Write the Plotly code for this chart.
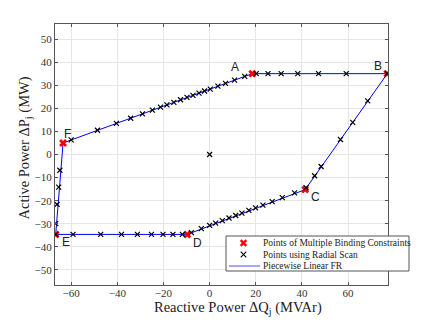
import plotly.graph_objects as go

# corner points of the feasible region (multiple binding constraints)
vert_names = ["A", "B", "C", "D", "E", "F"]
vert_q = [18.5, 77.0, 41.4, -9.7, -66.7, -63.5]
vert_p = [35.0, 35.0, -15.2, -34.6, -34.6, 5.0]

# points found with the radial scan
scan_q = [-60.0, -48.6, -40.4, -34.2, -29.1, -24.8, -21.3, -18.5, -15.5, -12.6,
          -9.8, -7.2, -4.6, -2.2, 0.3, 3.6, 6.9, 10.8, 15.2, 20.2,
          25.3, 31.0, 38.2, 47.2, 59.2, 77.0,
          68.5, 62.0, 56.7, 48.3, 45.5, 41.8,
          36.8, 31.5, 27.1, 23.1, 19.9, 17.0, 14.0, 11.3, 8.4, 5.5, 2.6, 0.0, -3.6, -7.9,
          -11.8, -15.9, -20.2, -25.2, -31.3, -38.2, -47.2, -59.2, -66.7,
          -66.7, -66.1, -65.4, -64.9,
          0.0]
scan_p = [6.3, 10.5, 13.5, 15.7, 17.6, 19.2, 20.5, 21.5, 22.6, 23.7,
          24.7, 25.6, 26.6, 27.5, 28.3, 29.6, 30.8, 32.2, 33.8, 35.0,
          35.0, 35.0, 35.0, 35.0, 35.0, 35.0,
          23.2, 13.9, 6.5, -5.2, -9.2, -14.4,
          -16.6, -18.7, -20.4, -21.9, -23.1, -24.2, -25.4, -26.4, -27.5, -28.6, -29.7, -30.7, -32.1, -33.8,
          -34.6, -34.6, -34.6, -34.6, -34.6, -34.6, -34.6, -34.6, -34.6,
          -29.9, -21.6, -14.1, -6.8,
          0.0]

# where the letters sit
label_q = [10.8, 72.9, 45.9, -5.1, -62.3, -61.8]
label_p = [37.8, 38.2, -18.5, -38.2, -38.0, 8.8]

legend_names = ["Points of Multiple Binding Constraints",
                "Points using Radial Scan",
                "Piecewise Linear FR"]

serif = "Liberation Serif, Times New Roman, serif"

fig = go.Figure()

fig.add_trace(go.Scatter(
    x=vert_q + vert_q[:1], y=vert_p + vert_p[:1],
    mode="lines", line=dict(color="#0000ff", width=1), showlegend=False,
))
fig.add_trace(go.Scatter(
    x=vert_q, y=vert_p, mode="markers", showlegend=False,
    marker=dict(symbol="x", size=7, color="#ff0000", line=dict(width=0)),
))
fig.add_trace(go.Scatter(
    x=scan_q, y=scan_p, mode="markers", showlegend=False,
    marker=dict(symbol="x-thin", size=5, line=dict(width=1.2, color="#000000")),
))

for name, q, p in zip(vert_names, label_q, label_p):
    fig.add_annotation(x=q, y=p, text=name, showarrow=False,
                       font=dict(family="Liberation Sans, Arial", size=12, color="#222"))

# pixel -> paper helpers (plot area 55..388 x 24..285 on the page)
px = lambda v: (v - 55) / 333
py = lambda v: (285 - v) / 261

# axis titles
fig.add_annotation(xref="paper", yref="paper", x=px(238), y=py(308),
                   text="Reactive Power ΔQ<sub>j</sub> (MVAr)", showarrow=False,
                   xanchor="center", yanchor="middle", borderpad=0,
                   font=dict(family=serif, size=14.5, color="#222"))
fig.add_annotation(xref="paper", yref="paper", x=px(24), y=py(148.5),
                   text="Active Power ΔP<sub>j</sub> (MW)", showarrow=False,
                   textangle=-90, xanchor="center", yanchor="middle", borderpad=0,
                   font=dict(family=serif, size=14.5, color="#222"))

# hand-made legend box (compact, like the original)
fig.add_shape(type="rect", xref="paper", yref="paper",
              x0=px(226), x1=px(409), y0=py(271), y1=py(236),
              fillcolor="white", line=dict(color="#555", width=1), layer="above")
rows = [py(243), py(254.5), py(266)]
mx, dx, dy = px(243.5), 2.8 / 333, 2.8 / 261
for col, w, yy in [("#ff0000", 2.4, rows[0]), ("#000000", 1.1, rows[1])]:
    fig.add_shape(type="line", xref="paper", yref="paper", x0=mx - dx, x1=mx + dx,
                  y0=yy - dy, y1=yy + dy, line=dict(color=col, width=w), layer="above")
    fig.add_shape(type="line", xref="paper", yref="paper", x0=mx - dx, x1=mx + dx,
                  y0=yy + dy, y1=yy - dy, line=dict(color=col, width=w), layer="above")
fig.add_shape(type="line", xref="paper", yref="paper", x0=px(229), x1=px(260),
              y0=rows[2], y1=rows[2], line=dict(color="#4d4dff", width=1), layer="above")
for txt, yy in zip(legend_names, rows):
    fig.add_annotation(xref="paper", yref="paper", x=px(261), y=yy, text=txt,
                       showarrow=False, xanchor="left", yanchor="middle",
                       font=dict(family=serif, size=9.5, color="#222"))

axis_style = dict(
    showgrid=True, gridcolor="#e6e6e6", gridwidth=1, zeroline=False,
    showline=True, linecolor="#555", linewidth=1, mirror="ticks",
    ticks="inside", ticklen=3, tickcolor="#555", automargin=False,
    tickfont=dict(family=serif, size=11, color="#333"),
)

fig.update_xaxes(range=[-67.0, 77.3], tickvals=[-60, -40, -20, 0, 20, 40, 60],
                 ticklabelstandoff=-2, **axis_style)
fig.update_yaxes(range=[-56.5, 56.5], tickvals=list(range(-50, 51, 10)),
                 **axis_style)

# the page body adds an 8px margin, so the figure is 8px smaller than the window
fig.update_layout(
    width=421, height=314,
    margin=dict(l=47, r=41, t=16, b=37),
    plot_bgcolor="white", paper_bgcolor="white",
    showlegend=False,
)

fig.write_html("out.html")
